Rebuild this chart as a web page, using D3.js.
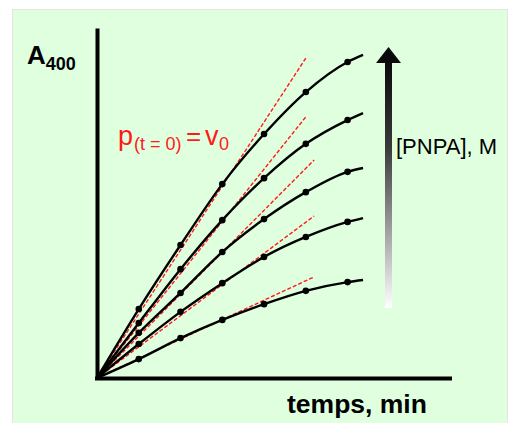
<!DOCTYPE html>
<html>
<head>
<meta charset="utf-8">
<script src="https://cdn.jsdelivr.net/npm/d3@7"></script>
<style>
    body { margin: 0; background: #ffffff; }
    svg { display: block; font-family: "Liberation Sans", Arial, sans-serif; }
</style>
</head>
<body>
<script>
// Chart data (time in min, absorbance at 400 nm)
const times = [0, 1, 2, 3, 4, 5, 6, 6.37];
const curve1 = [0, 0.197, 0.380, 0.554, 0.697, 0.817, 0.903, 0.923];
const curve2 = [0, 0.157, 0.311, 0.451, 0.571, 0.669, 0.737, 0.757];
const curve3 = [0, 0.129, 0.243, 0.360, 0.454, 0.531, 0.589, 0.600];
const curve4 = [0, 0.097, 0.189, 0.271, 0.346, 0.403, 0.446, 0.457];
const curve5 = [0, 0.054, 0.114, 0.166, 0.211, 0.249, 0.274, 0.280];
const curves = [curve1, curve2, curve3, curve4, curve5];
const markedTimes = [1, 2, 3, 4, 5, 6];

// Initial-rate tangents: end point of each dashed line
const tangentT = [5.0, 5.0, 5.2, 5.2, 5.2];
const tangentA = [0.914, 0.746, 0.623, 0.463, 0.289];

const width = 513;
const height = 423;

const svg = d3.select("body")
    .append("svg")
    .attr("width", width)
    .attr("height", height);

// Green panel
svg.append("rect")
    .attr("x", 12.5)
    .attr("y", 9.5)
    .attr("width", 495)
    .attr("height", 420)
    .attr("fill", "#dfffdf")
    .attr("stroke", "#e4e4e4")
    .attr("stroke-width", 1);

// Scales
const xScale = d3.scaleLinear()
    .domain([0, 8.5])
    .range([97, 452]);

const yScale = d3.scaleLinear()
    .domain([0, 1])
    .range([378, 28]);

// Axes (plain thick lines, no ticks)
const xAxis = svg.append("g")
    .attr("transform", "translate(0, 378.5)")
    .call(d3.axisBottom(xScale).ticks(0).tickSizeOuter(0));
const yAxis = svg.append("g")
    .attr("transform", "translate(97, 0)")
    .call(d3.axisLeft(yScale).ticks(0).tickSizeOuter(0));
[xAxis, yAxis].forEach(g => g.select(".domain")
    .attr("stroke", "#000")
    .attr("stroke-width", 4));
xAxis.select(".domain").attr("d", `M${xScale(0) - 2},0H${xScale(8.5)}`);

// Tangent lines
const tangentLine = d3.line()
    .x(d => xScale(d[0]))
    .y(d => yScale(d[1]));

tangentT.forEach((t, i) => {
    svg.append("path")
        .datum([[0, 0], [t, tangentA[i]]])
        .attr("d", tangentLine)
        .attr("fill", "none")
        .attr("stroke", "#ff1a1a")
        .attr("stroke-width", 1.4)
        .attr("stroke-dasharray", "4,2");
});

// Kinetic curves
const curveLine = d3.line()
    .x((d, i) => xScale(times[i]))
    .y(d => yScale(d))
    .curve(d3.curveMonotoneX);

curves.forEach(c => {
    svg.append("path")
        .datum(c)
        .attr("d", curveLine)
        .attr("fill", "none")
        .attr("stroke", "#000")
        .attr("stroke-width", 2.4);

    svg.selectAll(null)
        .data(markedTimes)
        .enter()
        .append("circle")
        .attr("cx", t => xScale(t))
        .attr("cy", t => yScale(c[times.indexOf(t)]))
        .attr("r", 3.3)
        .attr("fill", "#000");
});

// Concentration arrow with gradient
const grad = svg.append("defs")
    .append("linearGradient")
    .attr("id", "arrowGrad")
    .attr("x1", 0).attr("y1", 0)
    .attr("x2", 0).attr("y2", 1);
grad.append("stop").attr("offset", "0%").attr("stop-color", "#0a0a0a");
grad.append("stop").attr("offset", "35%").attr("stop-color", "#3a3a3a");
grad.append("stop").attr("offset", "100%").attr("stop-color", "#ffffff");

svg.append("rect")
    .attr("x", 385)
    .attr("y", 62)
    .attr("width", 7)
    .attr("height", 246)
    .attr("fill", "url(#arrowGrad)");

svg.append("path")
    .attr("d", "M376,63L388.5,47L401,63Z")
    .attr("fill", "#0a0a0a");

// Labels
const aLabel = svg.append("text")
    .attr("x", 27)
    .attr("y", 64)
    .attr("font-weight", "bold")
    .attr("fill", "#000");
aLabel.append("tspan").attr("font-size", 26).text("A");
aLabel.append("tspan").attr("font-size", 18).attr("dy", 6).text("400");

svg.append("text")
    .attr("x", 287)
    .attr("y", 413)
    .attr("font-size", 26.5)
    .attr("font-weight", "bold")
    .attr("fill", "#000")
    .text("temps, min");

svg.append("text")
    .attr("x", 396)
    .attr("y", 154)
    .attr("font-size", 22)
    .attr("fill", "#000")
    .text("[PNPA], M");

const vLabel = svg.append("text")
    .attr("y", 145)
    .attr("fill", "#ff1a1a");
vLabel.append("tspan").attr("x", 118).attr("font-size", 27).text("p");
vLabel.append("tspan").attr("x", 134).attr("font-size", 18).attr("dy", 5).text("(t = 0)");
vLabel.append("tspan").attr("x", 186).attr("font-size", 26).attr("dy", -5).text("=");
vLabel.append("tspan").attr("x", 205).attr("font-size", 27).text("v");
vLabel.append("tspan").attr("x", 219).attr("font-size", 18).attr("dy", 5).text("0");
</script>
</body>
</html>
